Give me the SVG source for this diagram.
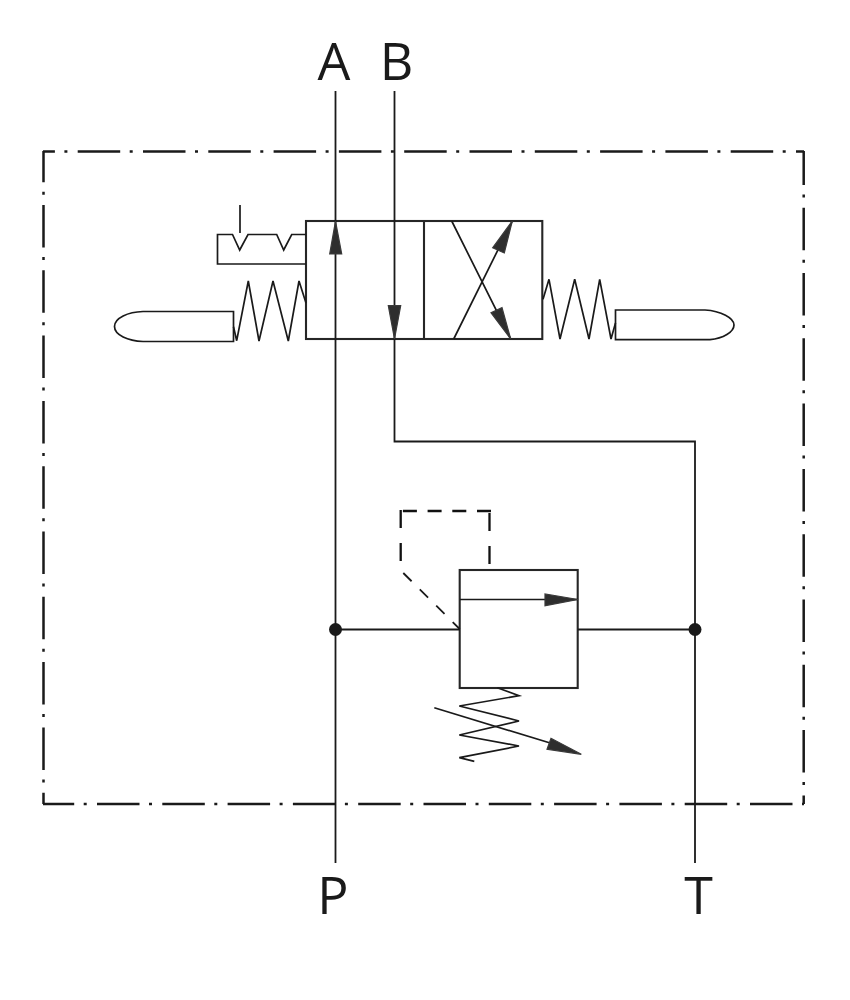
<svg xmlns="http://www.w3.org/2000/svg" width="850" height="1000" viewBox="0 0 850 1000">
<style>
.l{fill:none;stroke:#1a1a1a;stroke-width:1.8}
.b{fill:none;stroke:#262626;stroke-width:2.1}
.s{fill:none;stroke:#1a1a1a;stroke-width:1.7;stroke-linejoin:miter}
.h{fill:#2e2e2e;stroke:#3a3a3a;stroke-width:1.2}
.f{fill:none;stroke:#1a1a1a;stroke-width:2.5;stroke-dasharray:42.5 9.5 3 10.3}
.d{fill:none;stroke:#111;stroke-width:2.3}
.t{font-family:"Open Sans","Noto Sans",sans-serif;font-size:52px;fill:#1a1a1a;text-anchor:middle}
</style>
<rect width="850" height="1000" fill="#fff"/>
<g id="frame">
<path class="f" stroke-dashoffset="30.6" d="M43 151.5H804"/>
<path class="f" stroke-dashoffset="11.3" d="M43.5 151V804"/>
<path class="f" stroke-dashoffset="8.6" d="M803.7 151V804"/>
<path class="f" stroke-dashoffset="11.3" d="M43 804H804"/>
</g>
<g id="directional-valve">
<rect class="b" x="306" y="221" width="236.300" height="118"/>
<path class="b" d="M424 221V339"/>
<path class="s" d="M451.700 221L510.700 339M453.700 339L512.300 221"/>
<path class="h" d="M512.300 221L492.700 247.700L504.300 253Z"/>
<path class="h" d="M510.700 339L491 312.700L502 307.700Z"/>
</g>
<g id="detent">
<path class="s" d="M306 234.500H291.700L283.700 250L276.700 234.500H248L239.700 250L232.500 234.500H217.500V264H306"/>
<path class="s" d="M240 205V233"/>
</g>
<g id="left-spring">
<path class="s" d="M233.500 326.700L236.700 340.700L248.300 281L259 341L273 281L288.300 341L299 281L306 303"/>
<path class="s" d="M233.500 311.500V341.500H143C128 341 114.500 335 114.500 326.500C114.500 318 128 312 143 311.500Z"/>
</g>
<g id="right-spring">
<path class="s" d="M543 299.300L549 279.300L560 339L574.700 279.300L589 339L599.700 279.300L611 339L615.500 323"/>
<path class="s" d="M615.500 310V339.700H710C723 338.500 734 332 734 325C734 318 721 311 705 310Z"/>
</g>
<g id="relief-valve">
<rect class="b" x="459.700" y="570" width="118" height="118"/>
<path class="s" d="M460 599.500H578"/>
<path class="h" d="M578 599.500L545 594V605.700Z"/>
<path class="s" d="M497.300 687.700L519 695.700L459.300 706L519 721L459.300 735L519 746L459.300 757.700L474.300 761.300"/>
<path class="s" d="M434.300 707.700L560 746"/>
<path class="h" d="M581.300 754.300L551 738.300L547 749.300Z"/>
<path class="d" stroke-dasharray="18 15" d="M489.500 564V511"/>
<path class="d" stroke-dasharray="14 10.700" d="M491 511H401"/>
<path class="d" stroke-dasharray="18 15" d="M400.700 510V561"/>
<path class="l" stroke-dasharray="11.700 11.500" d="M403.300 573L459.700 629"/>
</g>
<g id="connectors">
<path class="l" d="M335.500 91V863"/>
<path class="l" d="M394.500 91V441.500H695V863"/>
<path class="l" d="M335.500 629.500H460M578 629.500H695"/>
<path class="h" d="M335.500 221L329.700 254H341.700Z"/>
<path class="h" d="M394.500 339L388.300 305.700H400.700Z"/>
<circle cx="335.500" cy="629.500" r="6.500" fill="#1a1a1a"/>
<circle cx="695" cy="629.500" r="6.500" fill="#1a1a1a"/>
</g>
<g id="ports">
<text class="t" x="334" y="80">A</text>
<text class="t" x="396.500" y="80">B</text>
<text class="t" x="333" y="914">P</text>
<text class="t" x="698.500" y="914">T</text>
</g>
</svg>
